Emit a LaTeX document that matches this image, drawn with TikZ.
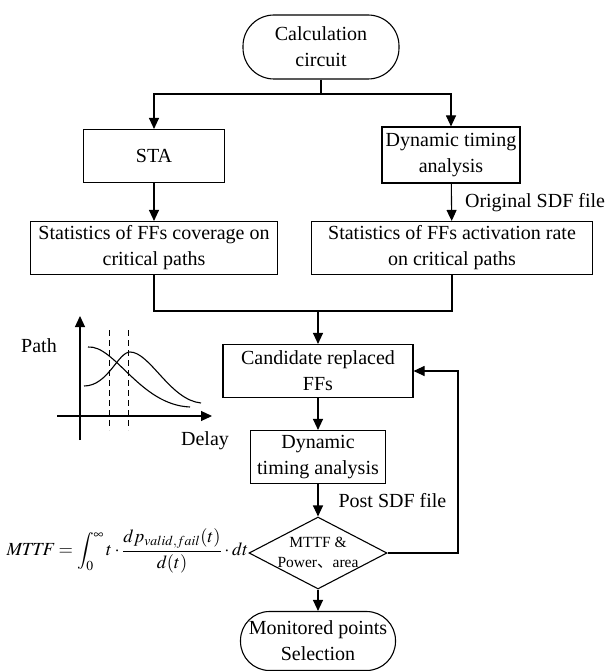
\documentclass[tikz,border=0pt]{standalone}
\usepackage{mathptmx}
\usepackage{fontspec}
\setmainfont{Liberation Serif}
\newfontfamily\cjk{Noto Sans CJK SC}
\usetikzlibrary{arrows.meta,shapes.geometric,positioning}

\tikzset{
    txt/.style={font=\fontsize{20}{26}\selectfont, align=center, inner sep=0pt},
    box/.style={txt, draw, line width=1.1pt},
    term/.style={box, rounded corners=29pt},
    arr/.style={line width=1.1pt, -{Triangle[width=10pt,length=11pt]}},
    link/.style={line width=1.1pt}
}

\begin{document}
\begin{tikzpicture}[x=1pt, y=-1pt]
    \useasboundingbox (0,0) rectangle (609,671);

    % flow boxes
    \node[term, rounded corners=31pt, minimum width=156pt, minimum height=64pt] (calc) at (321,47) {Calculation\\circuit};
    \node[box, minimum width=141pt, minimum height=53pt] (sta) at (154,156) {STA};
    \node[box, minimum width=138pt, minimum height=56pt] (dta) at (451,155) {Dynamic timing\\analysis};
    \node[box, minimum width=247pt, minimum height=53pt] (covr) at (154,248) {Statistics of FFs coverage on\\critical paths};
    \node[box, minimum width=281pt, minimum height=53pt] (actv) at (452,248) {Statistics of FFs activation rate\\on critical paths};
    \node[box, minimum width=190pt, minimum height=53pt] (cand) at (318,371) {Candidate replaced\\FFs};
    \node[box, minimum width=135pt, minimum height=53pt] (dtapost) at (318,457) {Dynamic\\timing analysis};
    \node[diamond, draw, line width=1.1pt, minimum width=138pt, minimum height=72pt, inner sep=0pt] (check) at (318,553) {};
    \node[txt, font=\fontsize{15.5}{20}\selectfont] (checktxt) at (check) {MTTF \&\\Power{\cjk 、}area};
    \node[term, minimum width=155pt, minimum height=59pt] (mon) at (318,641) {Monitored points\\Selection};

    % connectors
    \coordinate (fork) at (321,94);
    \coordinate (join) at (318,311);
    \coordinate (loop) at (458,553);
    \draw[link] (calc) -- (fork);
    \draw[arr] (fork) -| (sta);
    \draw[arr] (fork) -| (dta);
    \draw[arr] (sta) -- (covr);
    \draw[arr] (dta) -- (actv) node[txt, midway, right=13pt] (orig) {Original SDF file};
    \draw[link] (covr) |- (join);
    \draw[link] (actv) |- (join);
    \draw[arr] (join) -- (cand);
    \draw[arr] (cand) -- (dtapost);
    \draw[arr] (dtapost) -- (check) node[txt, midway, right=20pt] (post) {Post SDF file};
    \draw[arr] (check.east) -- (loop) |- (cand.east);
    \draw[arr] (check) -- (mon);

    % formula
    \node[txt, font=\fontsize{18.5}{24}\selectfont, anchor=east, yshift=2pt] (mttf) at (check.west)
        {$\displaystyle \mathit{MTTF}=\int_0^\infty t\cdot\frac{dp_{valid,fail}(t)}{d(t)}\cdot dt$};

    % small sketch
    \draw[arr] (80,440) -- (80,316);
    \draw[arr] (57,416) -- (212,416);
    \draw[dash pattern=on 6pt off 4pt, line width=1pt] (109,330) -- (109,430);
    \draw[dash pattern=on 6pt off 4pt, line width=1pt] (128,330) -- (128,430);
    \draw[line width=1.1pt] (88,347) .. controls (115,345) and (140,405) .. (190,407);
    \draw[line width=1.1pt] (84,386) .. controls (108,386) and (118,352) .. (130,352)
        .. controls (150,352) and (170,400) .. (201,403);
    \node[txt] (pathlbl) at (39,346) {Path};
    \node[txt] (delaylbl) at (205,441) {Delay};
\end{tikzpicture}
\end{document}
